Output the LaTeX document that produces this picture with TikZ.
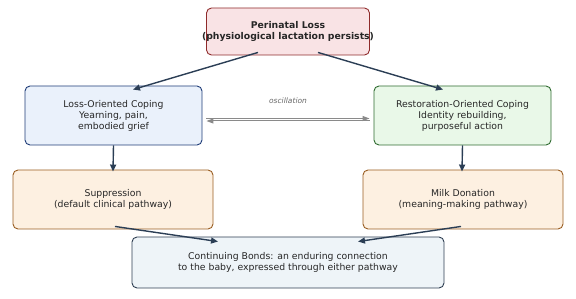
\documentclass[tikz,border=0pt]{standalone}
\usepackage{fontspec}
\setmainfont{DejaVu Sans}
\usetikzlibrary{arrows.meta,calc}
\definecolor{topfill}{HTML}{F9E3E5}
\definecolor{topdraw}{HTML}{8E2A2A}
\definecolor{lossfill}{HTML}{EAF1FB}
\definecolor{lossdraw}{HTML}{1F3C78}
\definecolor{resfill}{HTML}{E9F8E8}
\definecolor{resdraw}{HTML}{2F6B30}
\definecolor{pathfill}{HTML}{FDF0E1}
\definecolor{pathdraw}{HTML}{9A5E22}
\definecolor{bondfill}{HTML}{EEF4F8}
\definecolor{bonddraw}{HTML}{2E3E52}
\definecolor{arr}{HTML}{2B3E55}
\definecolor{osc}{HTML}{8A8A8A}
\tikzset{
  box/.style={rounded corners=5pt, line width=0.9pt, align=center, inner sep=0pt,
    font=\fontsize{9.3}{11}\selectfont, text=black!85},
  flow/.style={draw=arr, line width=1.4pt, -{Triangle[length=7pt,width=6pt]}},
  oscline/.style={draw=osc, line width=1pt, -{Triangle[length=7pt,width=5pt]}}
}
\begin{document}
\begin{tikzpicture}[x=1pt,y=-1pt]
\useasboundingbox (0,0) rectangle (576,299);
\node[box, fill=topfill, draw=topdraw, inner xsep=-4.5pt, minimum height=47pt,
  font=\fontsize{9.3}{11}\selectfont\bfseries] (top) at (288,31.5)
  {Perinatal Loss\\(physiological lactation persists)};
\node[box, fill=lossfill, draw=lossdraw, minimum width=177pt, minimum height=59pt] (loss) at (113.5,115.5)
  {Loss-Oriented Coping\\Yearning, pain,\\embodied grief};
\node[box, fill=resfill, draw=resdraw, minimum width=177pt, minimum height=59pt] (res) at (462.5,115.5)
  {Restoration-Oriented Coping\\Identity rebuilding,\\purposeful action};
\node[box, fill=pathfill, draw=pathdraw, minimum width=200pt, minimum height=59pt] (sup) at (113,199.5)
  {Suppression\\(default clinical pathway)};
\node[box, fill=pathfill, draw=pathdraw, minimum width=200pt, minimum height=59pt] (milk) at (463,199.5)
  {Milk Donation\\(meaning-making pathway)};
\node[box, fill=bondfill, draw=bonddraw, minimum width=312pt, minimum height=51pt] (bond) at (288,262.5)
  {Continuing Bonds: an enduring connection\\to the baby, expressed through either pathway};
\draw[flow] ($(top.south)+(-30,-3)$) -- ($(loss.north)+(19.5,4)$);
\draw[flow] ($(top.south)+(30,-3)$) -- ($(res.north)+(-19.5,4)$);
\draw[flow] (loss.south) -- ($(sup.north)+(0,2)$);
\draw[flow] (res.south) -- ($(milk.north)+(-1,2)$);
\draw[flow] ($(sup.south)+(2,-3)$) -- ($(bond.north)+(-70,5)$);
\draw[flow] ($(milk.south)+(-2,-3)$) -- ($(bond.north)+(70,5)$);
\coordinate (oscL1) at ($(loss.east)+(4,3)$);
\coordinate (oscR1) at ($(res.west)+(-4,3)$);
\coordinate (oscL2) at ($(loss.east)+(4,5.5)$);
\coordinate (oscR2) at ($(res.west)+(-4,5.5)$);
\draw[oscline] (oscL1) -- (oscR1);
\draw[oscline] (oscR2) -- (oscL2);
\node[font=\fontsize{7.5}{9}\itshape, text=black!60] (osclabel) at (288,101) {oscillation};
\end{tikzpicture}
\end{document}
